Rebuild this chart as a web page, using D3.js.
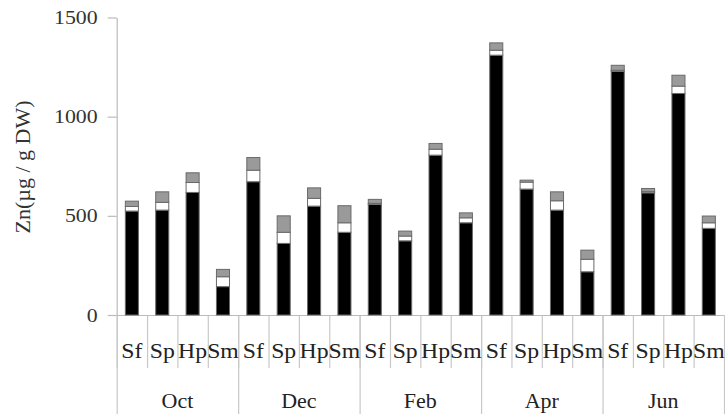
<!DOCTYPE html>
<html>
<head>
<meta charset="utf-8">
<script src="https://cdn.jsdelivr.net/npm/d3@7"></script>
<style>
  html, body { margin: 0; padding: 0; background: #fff; }
  svg { display: block; }
</style>
</head>
<body>
<svg id="chart" width="725" height="414"></svg>
<script>
const months = ["Oct", "Dec", "Feb", "Apr", "Jun"];
const species = ["Sf", "Sp", "Hp", "Sm"];
const yTicks = [0, 500, 1000, 1500];
// bottom (black), middle (white), top (gray) segments, month-major order
const blackVals = [524, 529, 618, 143, 672, 361, 549, 417, 558, 374, 806, 465, 1310, 635, 529, 218, 1229, 616, 1117, 437];
const whiteVals = [23, 39, 50, 50, 58, 56, 39, 48, 5, 24, 30, 25, 25, 35, 47, 63, 5, 6, 37, 28];
const grayVals  = [27, 53, 49, 37, 64, 83, 53, 86, 20, 25, 29, 25, 37, 10, 45, 46, 25, 16, 55, 34];
const segKeys = ["black", "white", "gray"];
const segFill = { black: "#000000", white: "#ffffff", gray: "#9a9a9a" };

const rows = [];
months.forEach((m, i) => species.forEach((s, j) => {
  const k = i * species.length + j;
  rows.push({ key: m + "-" + s, month: m, sp: s, black: blackVals[k], white: whiteVals[k], gray: grayVals[k] });
}));

const svg = d3.select("#chart");
const left = 116.7, right = 724, y0 = 315, yTop = 17.5;
const serif = "'Liberation Serif', 'Times New Roman', serif";

const x = d3.scaleBand().domain(rows.map(d => d.key)).range([left, right]).paddingInner(0).paddingOuter(0);
const xm = d3.scaleBand().domain(months).range([left, right]);
const y = d3.scaleLinear().domain([0, 1500]).range([y0, yTop]);

// category dividers
const bw = x.bandwidth();
svg.append("g").selectAll("line").data(rows).join("line")
  .attr("x1", d => x(d.key) + 0.5).attr("x2", d => x(d.key) + 0.5)
  .attr("y1", y0).attr("y2", 368)
  .attr("stroke", "#c8c8c8").attr("stroke-width", 1.2);
svg.append("g").selectAll("line").data(months.concat(["end"])).join("line")
  .attr("x1", d => (d === "end" ? right : xm(d)) + 0.5).attr("x2", d => (d === "end" ? right : xm(d)) + 0.5)
  .attr("y1", y0).attr("y2", 414)
  .attr("stroke", "#c8c8c8").attr("stroke-width", 1.2);

// y axis
const yAxis = d3.axisLeft(y).tickValues(yTicks).tickFormat(d3.format("d")).tickSize(9).tickSizeOuter(0);
const gy = svg.append("g").attr("transform", `translate(${left},0)`).call(yAxis);
gy.select(".domain").attr("stroke", "#bbbbbb").attr("stroke-width", 1.2);
gy.selectAll(".tick line").attr("stroke", "#bbbbbb").attr("stroke-width", 1.2);
gy.selectAll(".tick text").attr("font-family", serif).attr("font-size", 19).attr("fill", "#333")
  .attr("transform", "scale(1.15,1)").attr("x", -19 / 1.15);

// x baseline
svg.append("line").attr("x1", left).attr("x2", right).attr("y1", y0 + 0.5).attr("y2", y0 + 0.5)
  .attr("stroke", "#bbbbbb").attr("stroke-width", 1.2);

// stacked bars
const stack = d3.stack().keys(segKeys)(rows);
const barW = bw * 0.43;
svg.append("g").selectAll("g").data(stack).join("g")
  .attr("fill", d => segFill[d.key])
  .selectAll("rect").data(d => d).join("rect")
  .attr("x", d => x(d.data.key) + (bw - barW) / 2)
  .attr("width", barW)
  .attr("y", d => y(d[1]))
  .attr("height", d => Math.max(0, y(d[0]) - y(d[1])))
  .attr("stroke", "#6a6a6a").attr("stroke-width", 1);

// species labels
svg.append("g").selectAll("text").data(rows).join("text")
  .attr("transform", d => `translate(${x(d.key) + bw / 2},358) scale(1.13,1)`)
  .attr("text-anchor", "middle")
  .attr("font-family", serif).attr("font-size", 21).attr("fill", "#222")
  .text(d => d.sp);

// month labels
svg.append("g").selectAll("text").data(months).join("text")
  .attr("transform", d => `translate(${xm(d) + xm.bandwidth() / 2},408) scale(1.1,1)`)
  .attr("text-anchor", "middle")
  .attr("font-family", serif).attr("font-size", 20).attr("fill", "#222")
  .text(d => d);

// y label
svg.append("text")
  .attr("transform", "translate(30,167) rotate(-90)")
  .attr("text-anchor", "middle")
  .attr("font-family", serif).attr("font-size", 22).attr("fill", "#333")
  .text("Zn(µg / g DW)");
</script>
</body>
</html>
